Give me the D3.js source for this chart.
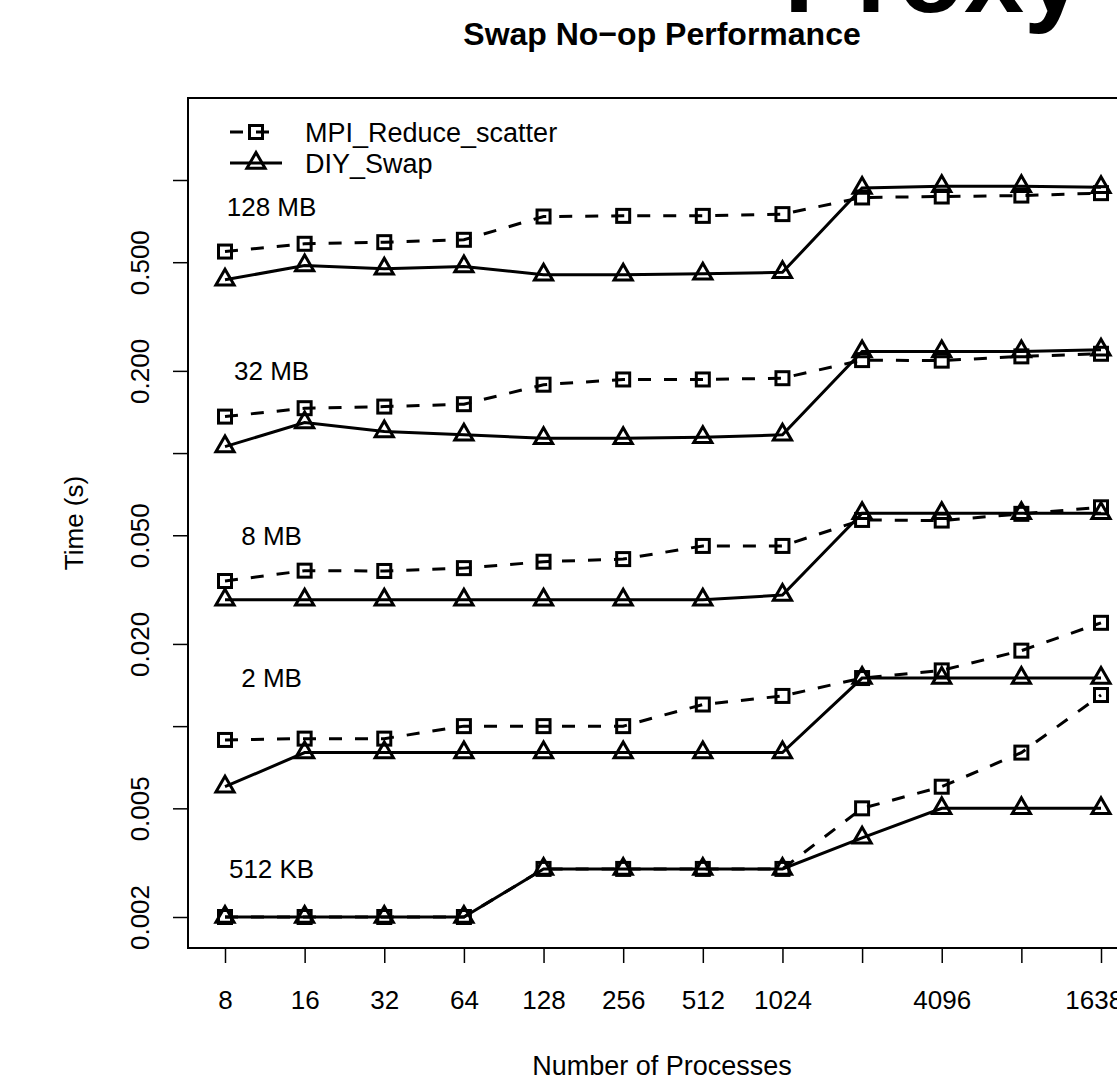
<!DOCTYPE html>
<html>
<head>
<meta charset="utf-8">
<script src="https://cdn.jsdelivr.net/npm/d3@7"></script>
<style>
  body { margin: 0; background: #fff; }
  text { font-family: "Liberation Sans", Arial, Helvetica, sans-serif; fill: #000; }
</style>
</head>
<body>
<div id="chart"></div>
<script>
// processes on the x axis
var procs = [8, 16, 32, 64, 128, 256, 512, 1024, 2048, 4096, 8192, 16384];
var xTickLabels = ["8", "16", "32", "64", "128", "256", "512", "1024", "", "4096", "", "16384"];

var yTicks = [0.002, 0.005, 0.01, 0.02, 0.05, 0.1, 0.2, 0.5, 1];
var yTickLabels = ["0.002", "0.005", "", "0.020", "0.050", "", "0.200", "0.500", ""];

var sizeLabels = ["128 MB", "32 MB", "8 MB", "2 MB", "512 KB"];
var sizeLabelTimes = [0.8, 0.2, 0.05, 0.015, 0.003];
var sizeLabelProcs = 12;

// MPI_Reduce_scatter times (s), one array per block size
var mpi128MB = [0.547, 0.584, 0.592, 0.604, 0.735, 0.739, 0.739, 0.750, 0.863, 0.870, 0.877, 0.895];
var mpi32MB  = [0.136, 0.146, 0.148, 0.151, 0.178, 0.186, 0.186, 0.188, 0.219, 0.218, 0.226, 0.231];
var mpi8MB   = [0.0340, 0.0371, 0.0370, 0.0379, 0.0400, 0.0409, 0.0457, 0.0457, 0.0569, 0.0566, 0.0599, 0.0633];
var mpi2MB   = [0.0089, 0.0090, 0.0090, 0.0100, 0.0100, 0.0100, 0.0120, 0.0129, 0.0150, 0.0160, 0.0189, 0.0239];
var mpi512KB = [0.002, 0.002, 0.002, 0.002, 0.003, 0.003, 0.003, 0.003, 0.005, 0.0060, 0.0080, 0.0130];

// DIY_Swap times (s)
var diy128MB = [0.431, 0.486, 0.473, 0.482, 0.450, 0.450, 0.454, 0.459, 0.935, 0.948, 0.948, 0.940];
var diy32MB  = [0.1056, 0.1293, 0.1199, 0.1166, 0.1134, 0.1134, 0.1143, 0.1166, 0.2354, 0.2354, 0.2354, 0.239];
var diy8MB   = [0.0290, 0.0290, 0.0290, 0.0290, 0.0290, 0.0290, 0.0290, 0.0302, 0.0602, 0.0602, 0.0602, 0.0602];
var diy2MB   = [0.0060, 0.0080, 0.0080, 0.0080, 0.0080, 0.0080, 0.0080, 0.0080, 0.0150, 0.0150, 0.0150, 0.0150];
var diy512KB = [0.002, 0.002, 0.002, 0.002, 0.003, 0.003, 0.003, 0.003, 0.0039, 0.005, 0.005, 0.005];

var mpiSeries = [mpi128MB, mpi32MB, mpi8MB, mpi2MB, mpi512KB];
var diySeries = [diy128MB, diy32MB, diy8MB, diy2MB, diy512KB];

var W = 1117, H = 1083;
var box = {left: 188, right: 1136, top: 98, bottom: 948};

var svg = d3.select('#chart')
  .append('svg')
  .attr('width', W)
  .attr('height', H);

var x = d3.scaleLog().base(2).domain([8, 16384]).range([225, 1101]);
var y = d3.scaleLog().domain([0.002, 1]).range([917, 180]);

// big clipped text at the top right
svg.append('text')
  .attr('x', 784)
  .attr('y', 12)
  .attr('font-size', 108)
  .attr('font-weight', 'bold')
  .text('Proxy');

svg.append('text')
  .attr('x', (box.left + box.right) / 2)
  .attr('y', 45)
  .attr('text-anchor', 'middle')
  .attr('font-size', 32)
  .attr('font-weight', 'bold')
  .text('Swap No\u2212op Performance');

// axes
var xAxis = svg.append('g')
  .attr('transform', 'translate(0,' + box.bottom + ')')
  .call(d3.axisBottom(x).tickValues(procs).tickSize(15)
    .tickFormat(function(d, i){ return xTickLabels[i]; }));
xAxis.select('.domain').remove();
xAxis.selectAll('line').attr('stroke', '#000').attr('stroke-width', 1.5);
xAxis.selectAll('text')
  .attr('y', 61).attr('dy', 0)
  .attr('font-size', 26)
  .attr('font-family', '"Liberation Sans", Arial, Helvetica, sans-serif')
  .attr('fill', '#000');

var yAxis = svg.append('g')
  .attr('transform', 'translate(' + box.left + ',0)')
  .call(d3.axisLeft(y).tickValues(yTicks).tickSize(15)
    .tickFormat(function(d, i){ return yTickLabels[i]; }));
yAxis.select('.domain').remove();
yAxis.selectAll('line').attr('stroke', '#000').attr('stroke-width', 1.5);
yAxis.selectAll('text')
  .attr('transform', 'rotate(-90)')
  .attr('x', 0).attr('y', -39).attr('dy', 0)
  .attr('text-anchor', 'middle')
  .attr('font-size', 26)
  .attr('font-family', '"Liberation Sans", Arial, Helvetica, sans-serif')
  .attr('fill', '#000');

// plot box
svg.append('rect')
  .attr('x', box.left).attr('y', box.top)
  .attr('width', box.right - box.left)
  .attr('height', box.bottom - box.top)
  .attr('fill', 'none')
  .attr('stroke', '#000')
  .attr('stroke-width', 2);

svg.append('text')
  .attr('x', (box.left + box.right) / 2)
  .attr('y', 1075)
  .attr('text-anchor', 'middle')
  .attr('font-size', 27)
  .text('Number of Processes');

svg.append('text')
  .attr('transform', 'translate(83,' + (box.top + box.bottom) / 2 + ') rotate(-90)')
  .attr('text-anchor', 'middle')
  .attr('font-size', 26)
  .text('Time (s)');

var line = d3.line()
  .x(function(d, i){ return x(procs[i]); })
  .y(function(d){ return y(d); });

function square(g, cx, cy){
  g.append('rect')
    .attr('x', cx - 6.5).attr('y', cy - 6.5)
    .attr('width', 13).attr('height', 13)
    .attr('fill', 'none').attr('stroke', '#000').attr('stroke-width', 3);
}
function triangle(g, cx, cy){
  var r = 10.5;
  var pts = [[cx, cy - r], [cx + r * Math.sqrt(3) / 2, cy + r / 2], [cx - r * Math.sqrt(3) / 2, cy + r / 2]];
  g.append('path')
    .attr('d', 'M' + pts.join('L') + 'Z')
    .attr('fill', 'none').attr('stroke', '#000').attr('stroke-width', 3)
    .attr('stroke-linejoin', 'miter');
}

var plot = svg.append('g');

mpiSeries.forEach(function(s){
  plot.append('path')
    .attr('d', line(s))
    .attr('fill', 'none').attr('stroke', '#000').attr('stroke-width', 3)
    .attr('stroke-dasharray', '13,13');
  s.forEach(function(v, i){ square(plot, x(procs[i]), y(v)); });
});

diySeries.forEach(function(s){
  plot.append('path')
    .attr('d', line(s))
    .attr('fill', 'none').attr('stroke', '#000').attr('stroke-width', 3);
  s.forEach(function(v, i){ triangle(plot, x(procs[i]), y(v)); });
});

sizeLabels.forEach(function(lab, i){
  svg.append('text')
    .attr('x', x(sizeLabelProcs))
    .attr('y', y(sizeLabelTimes[i]))
    .attr('dy', '0.36em')
    .attr('text-anchor', 'middle')
    .attr('font-size', 26)
    .text(lab);
});

// legend
var legend = svg.append('g');
legend.append('line')
  .attr('x1', 230).attr('x2', 282).attr('y1', 132).attr('y2', 132)
  .attr('stroke', '#000').attr('stroke-width', 3).attr('stroke-dasharray', '13,13');
square(legend, 256, 132);
legend.append('text').attr('x', 305).attr('y', 132).attr('dy', '0.36em')
  .attr('font-size', 27).text('MPI_Reduce_scatter');

legend.append('line')
  .attr('x1', 230).attr('x2', 282).attr('y1', 163).attr('y2', 163)
  .attr('stroke', '#000').attr('stroke-width', 3);
triangle(legend, 256, 163);
legend.append('text').attr('x', 305).attr('y', 163).attr('dy', '0.36em')
  .attr('font-size', 27).text('DIY_Swap');
</script>
</body>
</html>
